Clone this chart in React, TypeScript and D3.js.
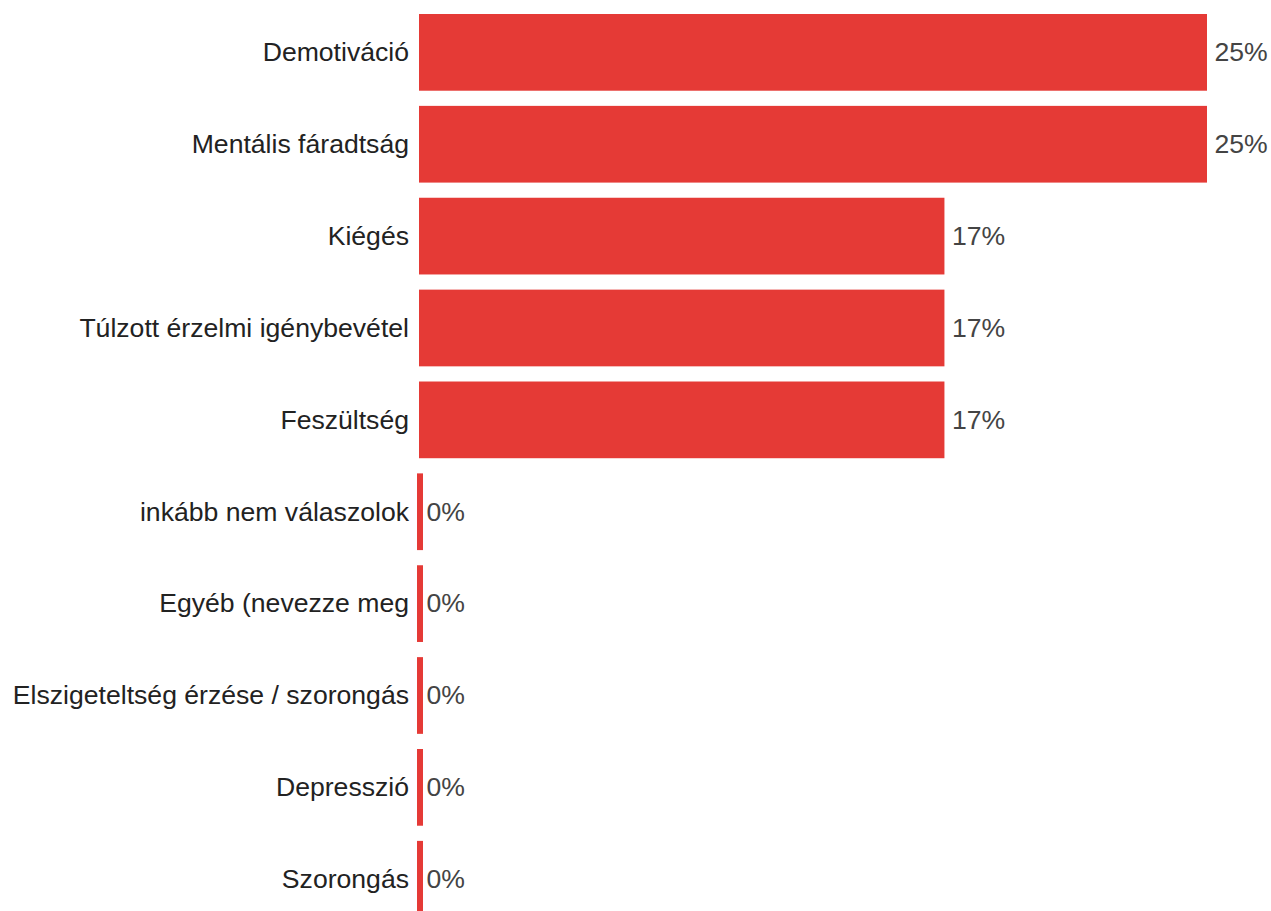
import React from "react";
import * as d3 from "d3";

const categories = [
  "Demotiváció",
  "Mentális fáradtság",
  "Kiégés",
  "Túlzott érzelmi igénybevétel",
  "Feszültség",
  "inkább nem válaszolok",
  "Egyéb (nevezze meg",
  "Elszigeteltség érzése / szorongás",
  "Depresszió",
  "Szorongás",
];
const values = [25, 25, 16.67, 16.67, 16.67, 0, 0, 0, 0, 0];

const W = 1271;
const H = 911;
const FS = 26.6;

export default function App() {
  const y = d3.scaleBand<string>().domain(categories).range([14, 917.6]).paddingInner(0.165).paddingOuter(0);
  const x = d3.scaleLinear().domain([0, 25]).range([419, 1207]);
  const fmt = (v: number) => d3.format(".0f")(v) + "%";
  return (
    <div style={{ position: "absolute", left: 0, top: 0, width: W, height: H, overflow: "hidden", background: "#fff" }}>
      <svg width={W} height={H} style={{ display: "block" }} fontFamily="'Liberation Sans', Arial, sans-serif">
        {categories.map((c, i) => {
          const v = values[i];
          const y0 = y(c)!;
          const bw = y.bandwidth();
          const cy = y0 + bw / 2;
          const base = cy + FS * 0.33;
          const zero = v === 0;
          const bx = zero ? x(0) - 2 : x(0);
          const w = zero ? 6 : x(v) - x(0);
          return (
            <g key={c}>
              <rect x={bx} y={y0} width={w} height={bw} fill="#e53a36" />
              <text x={409} y={base} textAnchor="end" fontSize={FS} fill="#222">
                {c}
              </text>
              <text x={x(v) + 7.5} y={base} textAnchor="start" fontSize={FS} fill="#444">
                {fmt(v)}
              </text>
            </g>
          );
        })}
      </svg>
    </div>
  );
}
